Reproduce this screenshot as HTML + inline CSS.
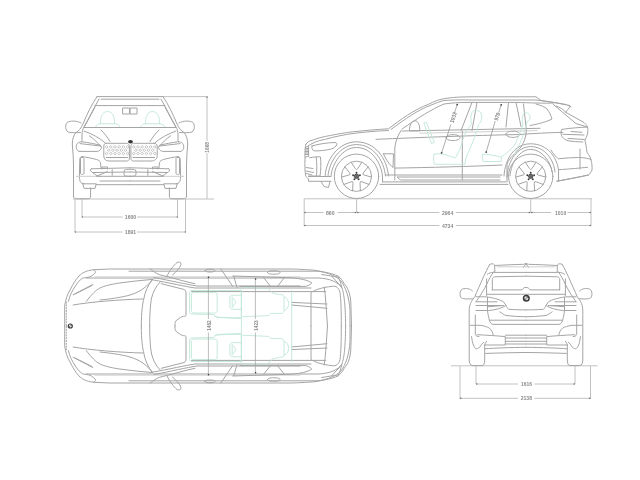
<!DOCTYPE html>
<html><head><meta charset="utf-8">
<style>
html,body{margin:0;padding:0;background:#fff;width:640px;height:480px;overflow:hidden}
svg{display:block;will-change:transform}
.l{fill:none;stroke:#a4a4a4;stroke-width:1;stroke-linecap:round;stroke-linejoin:round}
.g{fill:none;stroke:#bfe6d6;stroke-width:.9}
.d{fill:none;stroke:#c2c2c2;stroke-width:1}
.t{font-family:"Liberation Sans",sans-serif;font-size:5.7px;font-weight:bold;fill:#8a8a8a}
</style></head><body>
<svg width="640" height="480" viewBox="0 0 640 480">
<!-- FRONT VIEW dims -->
<g class="d">
<path d="M73 199H214"/>
<path d="M163 96.6H208M207 96.6V141M207 153V199"/>
<path d="M82 199V217H122.5M137 217H177.5V199"/>
<path d="M75 199V232H122.5M137 232H185.5V199"/>
</g>
<g fill="#777"><circle cx="82.3" cy="217" r=".7"/><circle cx="177.3" cy="217" r=".7"/><circle cx="75.3" cy="232" r=".7"/><circle cx="185.3" cy="232" r=".7"/><circle cx="207" cy="97.3" r=".7"/></g>
<text class="t" x="124.8" y="219.3" textLength="11.4" lengthAdjust="spacingAndGlyphs">1600</text>
<text class="t" x="124.8" y="234.3" textLength="11.4" lengthAdjust="spacingAndGlyphs">1891</text>
<text class="t" transform="translate(208.6 152.8) rotate(-90)" textLength="10.9" lengthAdjust="spacingAndGlyphs">1668</text>
<!-- FRONT VIEW car -->
<g class="l">
<!-- roof & pillars -->
<path d="M97 96.6H163M101 99.2H159"/>
<path d="M97 96.6C92 104 87 114 83 124C81 128 79 131 76 132.5C73.5 135 72.3 140 72.3 144C72.5 148 73 152 73.2 156L73.5 166V196"/>
<path d="M163 96.6C168 104 173 114 177 124C179 128 181 131 184 132.5C186.5 135 187.7 140 187.7 144C187.5 148 187 152 186.8 156L186.5 166V196"/>
<path d="M99 99C94 108 89 118 84.5 126C82.5 129 82 132 82 135V140.5M161 99C166 108 171 118 175.5 126C177.5 129 178 132 178 135V140.5"/>
<path d="M95 105.6H165"/>
<path d="M95 107C91 114 88 121 84 127.5H176C172 121 169 114 165 107"/>
<!-- mirrors -->
<path d="M81 123C77 120.5 70 120.5 67 122.5C65 125 65.2 130 68 132C71 133 77 132.8 80.5 132.5"/>
<path d="M179 123C183 120.5 190 120.5 193 122.5C195 125 194.8 130 192 132C189 133 183 132.8 179.5 132.5"/>
<!-- rearview mirror -->
<path d="M123 108H129.5V114H123ZM130.5 108H137V114H130.5Z"/>
<!-- hood creases -->
<path d="M101 130C105 134 108 138 110 141.5M159 130C155 134 152 138 150 141.5"/>
<path d="M89.4 135.8C94 139 98 143 100.4 146M170.6 135.8C166 139 162 143 159.6 146M84 131C92 134 100 138 105 142.8M176 131C168 134 160 138 155 142.8"/>
<!-- headlights -->
<path d="M81.6 141.7C88 142.5 95 144 100.4 145.2C101.5 146 101.5 148 101.2 148.5C100 150.5 98.5 151.4 97.3 151.4H79C77.5 151 76.2 149 76.2 146.8C76.5 144 77.5 142 81.6 141.7Z"/>
<path d="M80 143.6L100.4 146"/>
<path d="M178.4 141.7C172 142.5 165 144 159.6 145.2C158.5 146 158.5 148 158.8 148.5C160 150.5 161.5 151.4 162.7 151.4H181C182.5 151 183.8 149 183.8 146.8C183.5 144 182.5 142 178.4 141.7Z"/>
<path d="M180 143.6L159.6 146"/>
<!-- kidneys -->
<path d="M106 143.3H126.5C128.5 143.3 129.4 145 129.4 147V158C129.4 160 128.5 161 126.5 161H109C105.5 161 103.8 159 103.8 156V146C103.8 144.5 104.5 143.3 106 143.3Z"/>
<path d="M154 143.3H133.5C131.5 143.3 130.9 145 130.9 147V158C130.9 160 131.5 161 133.5 161H151C154.5 161 157.2 159 157.2 156V146C157.2 144.5 156 143.3 154 143.3Z"/>
<path d="M106 157.5H127.5M133 157.5H154.5"/>
</g>
<g fill="none" stroke="#aeaeae" stroke-width=".7">
<path d="M105.1 146.9L106.6 145.6L108.1 146.9L106.6 148.2Z"/>
<path d="M109.3 146.9L110.8 145.6L112.3 146.9L110.8 148.2Z"/>
<path d="M113.5 146.9L115.0 145.6L116.5 146.9L115.0 148.2Z"/>
<path d="M117.7 146.9L119.2 145.6L120.7 146.9L119.2 148.2Z"/>
<path d="M121.9 146.9L123.4 145.6L124.9 146.9L123.4 148.2Z"/>
<path d="M126.1 146.9L127.6 145.6L129.1 146.9L127.6 148.2Z"/>
<path d="M107.2 150.2L108.7 148.9L110.2 150.2L108.7 151.5Z"/>
<path d="M111.4 150.2L112.9 148.9L114.4 150.2L112.9 151.5Z"/>
<path d="M115.6 150.2L117.1 148.9L118.6 150.2L117.1 151.5Z"/>
<path d="M119.8 150.2L121.3 148.9L122.8 150.2L121.3 151.5Z"/>
<path d="M124.0 150.2L125.5 148.9L127.0 150.2L125.5 151.5Z"/>
<path d="M105.1 153.5L106.6 152.2L108.1 153.5L106.6 154.8Z"/>
<path d="M109.3 153.5L110.8 152.2L112.3 153.5L110.8 154.8Z"/>
<path d="M113.5 153.5L115.0 152.2L116.5 153.5L115.0 154.8Z"/>
<path d="M117.7 153.5L119.2 152.2L120.7 153.5L119.2 154.8Z"/>
<path d="M121.9 153.5L123.4 152.2L124.9 153.5L123.4 154.8Z"/>
<path d="M126.1 153.5L127.6 152.2L129.1 153.5L127.6 154.8Z"/>
<path d="M132.3 146.9L133.8 145.6L135.3 146.9L133.8 148.2Z"/>
<path d="M136.5 146.9L138.0 145.6L139.5 146.9L138.0 148.2Z"/>
<path d="M140.7 146.9L142.2 145.6L143.7 146.9L142.2 148.2Z"/>
<path d="M144.9 146.9L146.4 145.6L147.9 146.9L146.4 148.2Z"/>
<path d="M149.1 146.9L150.6 145.6L152.1 146.9L150.6 148.2Z"/>
<path d="M153.3 146.9L154.8 145.6L156.3 146.9L154.8 148.2Z"/>
<path d="M134.4 150.2L135.9 148.9L137.4 150.2L135.9 151.5Z"/>
<path d="M138.6 150.2L140.1 148.9L141.6 150.2L140.1 151.5Z"/>
<path d="M142.8 150.2L144.3 148.9L145.8 150.2L144.3 151.5Z"/>
<path d="M147.0 150.2L148.5 148.9L150.0 150.2L148.5 151.5Z"/>
<path d="M151.2 150.2L152.7 148.9L154.2 150.2L152.7 151.5Z"/>
<path d="M132.3 153.5L133.8 152.2L135.3 153.5L133.8 154.8Z"/>
<path d="M136.5 153.5L138.0 152.2L139.5 153.5L138.0 154.8Z"/>
<path d="M140.7 153.5L142.2 152.2L143.7 153.5L142.2 154.8Z"/>
<path d="M144.9 153.5L146.4 152.2L147.9 153.5L146.4 154.8Z"/>
<path d="M149.1 153.5L150.6 152.2L152.1 153.5L150.6 154.8Z"/>
<path d="M153.3 153.5L154.8 152.2L156.3 153.5L154.8 154.8Z"/>
</g>
<g id="fbump" class="l">
<path d="M82 156.6C87 157.3 92 158.3 96.3 159.4C98.5 160 100 161 100.5 162.5L101 167.8"/>
<path d="M82 156.6C80.8 156.8 80 157.5 79.8 159L79.4 176.3C79.5 179 80 181 80.3 181.9C81 183 82.5 183.7 84 183.8"/>
<path d="M81.5 157.5H83C83.7 157.5 84 158 84 159V173C84 174 83.5 174.4 82.5 174.4H81.5C80.8 174.4 80.5 174 80.5 173V159C80.5 158 80.8 157.5 81.5 157.5Z"/>
<path d="M76.5 176.3H101" stroke="#cccccc"/>
<path d="M91.5 168.8C90.5 169 90 169.5 90.2 170C90.8 171.5 92 172 92.5 172.5C94.5 174 96.5 175.5 98 176.3H130M91.5 168.8L130 167.8M92.5 172.5L130 172M96.3 176.3L107.5 171.6"/>
<path d="M101.9 169V167H107.5V169M112.2 169.7V175.3"/>
<path d="M100 181H130M96.3 184.7H130"/>
<path d="M83.1 183.8H96.3L95 188.4H84.5Z"/>
<path d="M73.5 187.5V196C73.5 198 75 198.8 77 198.8H88C90 198.8 90.6 198 90.6 196V188"/>
<path d="M130 169.3C127 169.3 125.5 169.5 124.5 170C123.8 171.5 123.8 174 124.5 175.5C125.5 176 127 176.3 130 176.3"/>
</g>
<use href="#fbump" transform="matrix(-1 0 0 1 260 0)"/>
<g class="g">
<path d="M100.5 124C100 118 102 111.5 107.5 111.5C113 111.5 115 118 114.5 124M95.5 127C96.5 125 98 123.8 100.5 123.8H114.5C117 123.8 119.5 125 120 127"/>
<path d="M145.5 124C145 118 147 111.5 152.5 111.5C158 111.5 160 118 159.5 124M140.5 127C141.5 125 143 123.8 145.5 123.8H159.5C162 123.8 164.5 125 165 127"/>
</g>
<ellipse cx="130.5" cy="141.8" rx="2.4" ry="1.7" fill="#333"/>
<!-- SIDE VIEW dims -->
<g class="d">
<path d="M303.8 198.8H592"/>
<path d="M304.2 198.8V226M591 198.8V226"/>
<path d="M304.2 212.5H323.5M337.5 212.5H439.4M455.9 212.5H551M567.5 212.5H591M356.6 198.5V212.5M530.7 198.5V212.5"/>
<path d="M304.2 225.5H439.4M455.9 225.5H591"/>
</g>
<g fill="#6a6a6a"><circle cx="305" cy="212.5" r=".75"/><circle cx="355.3" cy="212.5" r=".75"/><circle cx="357.9" cy="212.5" r=".75"/><circle cx="529.4" cy="212.5" r=".75"/><circle cx="532" cy="212.5" r=".75"/><circle cx="590.2" cy="212.5" r=".75"/><circle cx="305" cy="225.5" r=".75"/><circle cx="590.2" cy="225.5" r=".75"/></g>
<text class="t" x="326" y="215" textLength="8.6" lengthAdjust="spacingAndGlyphs">860</text>
<text class="t" x="441.9" y="215" textLength="11.4" lengthAdjust="spacingAndGlyphs">2964</text>
<text class="t" x="555" y="215" textLength="11.2" lengthAdjust="spacingAndGlyphs">1010</text>
<text class="t" x="441.9" y="228" textLength="11.4" lengthAdjust="spacingAndGlyphs">4734</text>
<!-- SIDE VIEW car -->
<g class="l">
<!-- silhouette top -->
<path d="M305.7 144.6C307 142 310 140.5 313.2 140C318 138 324 136.5 330.4 135.5C340 133.5 350 132 356 131.5C365 130.5 376 129.5 388.5 128.8C400 120 415 109 428.5 104.3C434 101.5 438 100 441 99.3C450 97.5 456 97 470 96.8H536L541 100.5C552 102 562 104 569.8 105.5L571 107"/>
<path d="M307.5 146.3C312 143 318 140.5 324.6 139.5C335 136.5 345 134.5 355.5 133.2C365 132 376 131 388.5 130.5"/>
<path d="M391 129.5C405 119 418 110 430 105.5C436 103 440 101.5 444 100.5C455 99.8 465 99.8 470 100H536C548 101.5 558 103 566 104.5"/>
<path d="M402 129C418 118 432 109 444 104C452 102.8 460 102.5 466 102.4H516C530 102.8 545 103.5 553.5 103"/>
<!-- A pillar inner & window -->
<path d="M402 131L540 128.3"/>
<path d="M420 133.2L537 130.6" stroke="#cfcfcf"/>
<!-- mirror -->
<path d="M409.5 130.5C409 125 412 120.8 415 120.8C418 120.8 420 125 419.8 130.5Z"/>
<!-- B pillar -->
<path d="M472 102.4L461 130.5M477 102.4L472 130.5"/>
<!-- C pillar -->
<path d="M508.5 102.4L506 127M516 102.4L521 126.5"/>
<!-- quarter window -->
<path d="M536 104C541 105.5 545 107 547 109C549.5 112 551 116 552 119C547 121.5 541 123.5 530 125.5"/>
<!-- rear glass / tailgate -->
<path d="M553 104.2L576 123.6L587.4 127"/>
<path d="M565.6 112.2L584 122.5C585.5 124 587 125.5 587.4 126.5C588 128 588 131 587.5 134L586.3 137.4C585.5 139 585 140 585 140.8C585.5 143 586.5 147 587 152.5C589 155 590.5 157 591 160C592 163 592.2 167 592 170C591 172 590 174 588.5 175L557 181.3"/>
<path d="M567.9 105.3L570.2 106.5C569 108.5 567 110.5 565.6 112.2M556 106C560 107.5 563 109 565.6 112.2"/>

<!-- taillight -->
<path d="M562 129.4C570 128 580 127.5 587.4 127M562 129.4C561 130.5 561 131.5 561 132.8C561 136 563 139 568 140.8C573 141.5 578 142 582.8 142"/>
<path d="M563 134.3L584 135M571 131.5L582 132.3M568 138.5L584.5 139.5"/>
<!-- body crease -->
<path d="M376 139.3C420 137.5 470 135.5 520 134.5C540 133 555 132.5 563 132.4"/>
<!-- door handles -->
<path d="M506 134C506 132 510 131.2 513 131.2C517 131.2 519.8 132.5 519.8 134.2C519.8 136 517 137.4 513 137.4C509 137.4 506 136 506 134Z"/>
<path d="M446 137.5C446 135.5 450 134.6 453 134.6C457 134.6 460 136 460 137.6C460 139.2 457 140.6 453 140.6C449 140.6 446 139.3 446 137.5Z"/>
<!-- headlight -->
<path d="M312 146C318 144 328 142.6 335 142.5C337 142.5 337.5 144.5 336 146C334 148 332 149 330.4 149.2C325 150.5 319 151 314.3 150.9C312 150 311.5 148 312 146Z"/>
<!-- front face -->
<path d="M305.7 144.6C305 148 304.8 152 305 159C304.8 165 304.8 170 305.5 175C306 177 307 178 308.5 178.8L308.5 181.3H331"/>
<path d="M305.5 147L308.6 146.5V156.5L305.3 157M305.4 148.5H308.6M305.3 150H308.6M305.3 151.5H308.6M305.3 153H308.6M305.3 154.5H308.6"/>
<path d="M309.7 157.8C313 157 318 156.5 320.5 157C321 163 321 170 320 176H308.5"/>
<path d="M316.2 157.2C317 163 317 170 316.5 175.5"/>
<path d="M306 167.5L313 168.5M306 171L313.5 172.5M306.5 173.5L312 175"/>
<path d="M308.5 176.5H331M321 181.3L324 186.5L328.5 187.5L330 181.3"/>
<!-- front arch -->
<path d="M325.2 175.5C326 160 338 142 356.5 141.8C375 142 387 158 388.5 176"/>
<path d="M328 176C329 162 340 144.6 356.5 144.6C373 144.6 384 160 385.5 176"/>
<path d="M331 176C332 164 342 147.5 356.5 147.5C371 147.5 381 162 382.5 176"/>
<!-- side vent -->
<path d="M383.5 153.8H393.5L393 167.5C390 165 386 160 383.5 153.8Z"/>
<!-- door edges -->
<path d="M401 130.5C398 135 395.5 141 394.8 148V180"/>
<path d="M462.3 131V180M523.5 104L526 127C527 133 525 141 521 147C516 153 509 158 507 164V177"/>
<!-- sills -->
<path d="M394.8 168.1C430 167.5 470 166.5 502 165"/>
<path d="M385.6 175H502M397.5 177C398.5 179 399.5 180 402 180H500M397.5 177H500" />
<path d="M382.5 181.9H506M380 184.4H508"/>
<path d="M382.5 176V181.9M507 176V181.9"/>
<!-- rear arch -->
<path d="M504 176C505 158 515 143.8 530.7 143.8C548 143.8 557 158 558.5 170V181"/>
<path d="M507 176C508 160 518 146.6 530.7 146.6C545 146.6 554 160 555 172"/>
<path d="M510 176C511 162 520 149.4 530.7 149.4C542 149.4 551 162 552 172"/>
<!-- rear bumper upper -->
<path d="M551 150C553 154 556 157 558.5 158.8C565 158 572 157.5 578.5 157.5C584 157.5 588 158.5 591 159.4"/>
<path d="M558.6 169.7C570 169 580 168 587.5 167.3M580 149V169"/>
<path d="M557 181C570 179 580 177 588.5 175"/>
</g>
<g class="l">
<circle cx="356.5" cy="176.3" r="22.2"/>
<circle cx="356.5" cy="176.3" r="15.1"/>
<path d="M351.1 162.2L355.3 168.6Q356.5 170.7 357.7 168.6L361.9 162.2M368.2 166.8L363.4 172.8Q361.8 174.6 364.2 175.1L371.6 177.1M369.2 184.5L362.0 181.8Q359.8 180.8 360.0 183.2L360.4 190.9M352.6 190.9L353.0 183.2Q353.2 180.8 351.0 181.8L343.8 184.5M341.4 177.1L348.8 175.1Q351.2 174.6 349.6 172.8L344.8 166.8"/>
<circle cx="530.7" cy="176.3" r="22.2"/>
<circle cx="530.7" cy="176.3" r="15.1"/>
<path d="M525.3 162.2L529.5 168.6Q530.7 170.7 531.9 168.6L536.1 162.2M542.4 166.8L537.6 172.8Q536.0 174.6 538.4 175.1L545.8 177.1M543.4 184.5L536.2 181.8Q534.0 180.8 534.2 183.2L534.6 190.9M526.8 190.9L527.2 183.2Q527.4 180.8 525.2 181.8L518.0 184.5M515.6 177.1L523.0 175.1Q525.4 174.6 523.8 172.8L519.0 166.8"/>
</g>
<circle cx="356.5" cy="176.3" r="2.2" fill="#6a6a6a" stroke="#444" stroke-width=".8"/><circle cx="356.5" cy="172.7" r=".95" fill="#3a3a3a"/><circle cx="359.9" cy="175.2" r=".95" fill="#3a3a3a"/><circle cx="358.6" cy="179.2" r=".95" fill="#3a3a3a"/><circle cx="354.4" cy="179.2" r=".95" fill="#3a3a3a"/><circle cx="353.1" cy="175.2" r=".95" fill="#3a3a3a"/>
<circle cx="530.7" cy="176.3" r="2.2" fill="#6a6a6a" stroke="#444" stroke-width=".8"/><circle cx="530.7" cy="172.7" r=".95" fill="#3a3a3a"/><circle cx="534.1" cy="175.2" r=".95" fill="#3a3a3a"/><circle cx="532.8" cy="179.2" r=".95" fill="#3a3a3a"/><circle cx="528.6" cy="179.2" r=".95" fill="#3a3a3a"/><circle cx="527.3" cy="175.2" r=".95" fill="#3a3a3a"/>
<!-- green seats side -->
<g class="g">
<path d="M423.8 123L431.5 143.5L434.4 142.5L426.5 122.4Z"/>
<path d="M433.8 154.3C437 153.5 441 153.6 445 154.5C450 156 453 157.5 455.5 157.8C458 154 460 149 461.5 145C463 138 466 130 471.5 124C470.5 120 470.5 114 472.5 111.5C475 109.5 479 110 481 113C482.5 117 482 121.5 478.5 124.5C477 132 473 142 468 153C466 157 465 161 465 164.3H434.5C433.5 161 433.5 157 433.8 154.3Z"/>
<path d="M482.5 154C488 154.5 495 155.5 501.3 157V161.5H483C482.5 159 482.3 156 482.5 154Z"/>
<path d="M501.3 157C506 154 510 150 514 146C517 141 520 133 523 125C522 120 522 115 524 113C526.5 112 529.5 113.5 530 116C530.5 119 529 121 527 122C525 130 522 140 518.8 145.3C517 149 515.5 152 515 154"/>
</g>
<!-- dim lines inside side view -->
<g fill="none" stroke="#8c8c8c" stroke-width=".7">
<path d="M457.3 104.3L454.3 113.5M450.8 124.5L441.6 153"/>
<path d="M501.3 104.6L498.6 112.8M495.2 121L486.2 152.2"/>
</g>
<g fill="#444"><circle cx="457.2" cy="104.6" r=".9"/><circle cx="441.6" cy="152.8" r=".9"/><circle cx="501.2" cy="104.8" r=".9"/><circle cx="486.2" cy="152.1" r=".9"/></g>
<text class="t" transform="translate(453.5 123.3) rotate(-72)" textLength="11" lengthAdjust="spacingAndGlyphs">1033</text>
<text class="t" transform="translate(497.7 121.1) rotate(-72)" textLength="8.2" lengthAdjust="spacingAndGlyphs">978</text>

<!-- TOP VIEW -->
<g id="tophalf" class="l">
<path d="M64.7 326V306C65.5 300 67 295 70 290C73 284 76 279 79 276C82 273 86 270.5 94 269.7L109.7 269H290C300 269.2 310 269.8 315 270.3C322 271.5 328 272.8 331.7 273.7C334 274.5 336.5 275.3 338.3 276.2C341 278.5 343 281 344.2 283.7C346 286 347.5 288 348.3 290.3C349.8 294 350.5 298 350.8 302L351.5 326"/>
<path d="M129 271.2H318C328 272.5 336 276 341 281C346 288 349 297 350 310V326"/>
<path d="M86.3 278H318C330 278.5 338 282 342 288C344 294 345.5 305 345.6 326"/>
<path d="M95 276.8H300" stroke="#d4d4d4"/>
<path d="M93.8 270C95.5 270.5 96 272 95 273C93 275.5 90 277 88 277.3C85 277.8 83 278 82.5 278.2C80 280 78 282 76 285C72 291 69.5 296 68.4 301.4"/>
<path d="M92.8 284.5L73.1 294.8M92 285.5L75 294"/>
<path d="M86.3 301.4C92 294 96 290 99.4 288.3C104 286 110 284.5 118.8 283.1C130 281.5 142 280.3 152.5 279.4"/>
<path d="M73.1 305C90 302 120 299.5 143 299"/>
<path d="M100 300C115 298.5 125 296.5 130 295C140 292 147 287 152.5 279.4"/>
<path d="M66.3 302V326" stroke-dasharray="1.2 1.6"/>
<path d="M152 279.7C170 283 185 286.5 195 288H311M154 277.5C172 281 187 284.5 197 286H300M150 268.75C154 272 158 275 163.6 275.7C175 278.5 186 282 195 283.7"/>
<path d="M191.5 291.6H325.8"/>
<path d="M152.5 279.4C148 285 145 292 144 298C142.5 304 141.3 312 141.3 326"/>
<path d="M160 282.2C156 286 153 292 151.6 298C150.2 305 149.7 315 149.7 326"/>
<path d="M161.3 283.7L184.2 289.5C185.5 290 186 291.5 186 293V315.5C185 316.5 184 316.3 183.7 316.3C181 317 179 318 178.7 318.8C176 320 175 322 175 323.7V326"/>
<path d="M167 276C170 270 174 265 177 262.5C179 261.5 181.5 262 181 264.5C180 268 176 272 172.5 275"/>
<path d="M220.8 269L232.8 286.4M233.8 276.3L237 287.5M263.7 277.8L270.6 286.4M284.3 277.8L277.5 286.4"/>
<path d="M267.5 272.5C267.5 271.2 270 270.8 273.8 270.8C277.5 270.8 280 271.2 280 272.5C280 273.8 277.5 274.2 273.8 274.2C270 274.2 267.5 273.8 267.5 272.5Z"/>
<path d="M205 270.6C205 269.6 207.5 269.2 210 269.2C212.5 269.2 215 269.6 215 270.6C215 271.6 212.5 272 210 272C207.5 272 205 271.6 205 270.6Z"/>
<path d="M232.8 276L291 277.8C300 278.5 308 280 311.8 283C310 285 307 286.4 305 286.4H239.7"/>
<path d="M311 326V292.5C315 290 321 287.5 332.5 286.3C336 285.5 339 288 340 292.5C341 300 341.3 310 341.3 326"/>
<path d="M324.2 287C325 292 325.4 297 325.8 302L327.5 326"/>
<path d="M321.7 274.5C328 275.5 334 276.5 338.3 277C340 280 341 284 341.7 287M331.7 276.2L341.7 287"/>
<path d="M291.5 302.4L327 304M291.5 305L327 308.3"/>
</g>
<g id="tophalfg" class="g">
<path d="M189.6 312V292.5C189.6 291.2 190.5 290.5 192 290.5H241.4M189.6 312C189.6 313.5 190.5 314 192 314L213 314.5C215 315 216 317 217.5 317.7H241.4"/>
<path d="M194 292.4H214.7C216.2 292.4 217.2 293.4 217.2 295V310.5C217.2 312 216.2 313 214.7 313H194C192.4 313 191.4 312 191.4 310.5V295C191.4 293.4 192.4 292.4 194 292.4Z"/>
<path d="M241.1 295.2H232.5C230.8 295.2 229.9 296.2 229.9 298V306.5C229.9 308.3 230.8 309.3 232.5 309.3H241.1M232.2 296.5V308M233 298L236 302.2L233 306.5"/>
<path d="M241.4 290V326M291.7 290V326"/>
<path d="M241.4 315.6V291C241.5 289 242.5 287.7 244 287.7L266.6 288.3C269 288.8 270.5 290.5 272 292.7C275 294 279 294.5 281.9 294.8C283.5 295 284 296 284 297V310.2C284 312 283 313 281.9 313.4H271C270 314 269.5 315 268.8 315.6L243.6 316.7C242 316.5 241.4 316 241.4 315.6Z"/>
<path d="M284 297C287 297.5 288.5 300 288.5 303.5C288.5 307 287 310 284 310.2"/>
<path d="M214.4 316.6C222 317.5 232 318.2 240.7 318.5"/>
</g>
<use href="#tophalf" transform="matrix(1 0 0 -1 0 652)"/>
<use href="#tophalfg" transform="matrix(1 0 0 -1 0 652)"/>
<circle cx="70.3" cy="326" r="2.6" fill="#3a3a3a"/><circle cx="70.3" cy="326" r="1.4" fill="#9a9a9a"/><path d="M68.9 326A1.4 1.4 0 0 1 70.3 324.6V326ZM71.7 326A1.4 1.4 0 0 1 70.3 327.4V326Z" fill="#eee"/>
<g fill="none" stroke="#a0a0a0" stroke-width=".7">
<path d="M208.4 277V319M208.4 332.5V375"/>
<path d="M255.4 278.8V319M255.4 332.5V373"/>
</g>
<circle cx="208.5" cy="277.2" r=".8" fill="#333"/><circle cx="208.5" cy="374.8" r=".8" fill="#333"/>
<circle cx="255.6" cy="279" r=".8" fill="#333"/><circle cx="255.6" cy="372.8" r=".8" fill="#333"/>
<text class="t" transform="translate(210.6 330.8) rotate(-90)" textLength="10.4" lengthAdjust="spacingAndGlyphs">1462</text>
<text class="t" transform="translate(257.6 330.8) rotate(-90)" textLength="10.4" lengthAdjust="spacingAndGlyphs">1423</text>
<!-- REAR VIEW -->
<g class="d">
<path d="M451 365.8H597.5"/>
<path d="M460 366V399M476 366V384M575 366V384M590.5 366V399"/>
<path d="M476 384H518M534.4 384H575"/>
<path d="M460 398.3H518M534.4 398.3H590.5"/>
</g>
<g fill="#6a6a6a"><circle cx="476.8" cy="384" r=".75"/><circle cx="574.2" cy="384" r=".75"/><circle cx="460.8" cy="398.3" r=".75"/><circle cx="589.7" cy="398.3" r=".75"/></g>
<text class="t" x="521.1" y="386" textLength="10.9" lengthAdjust="spacingAndGlyphs">1616</text>
<text class="t" x="520.7" y="400.4" textLength="11.3" lengthAdjust="spacingAndGlyphs">2138</text>
<g id="rearhalf" class="l">
<path d="M489.8 264.5C490.5 263.5 493.5 263.3 494.7 265L494.8 271.7"/>
<path d="M494.7 265.5C505 265 515 264.5 523.5 264.3L526 263.6M523.5 267.4L526 263.6"/>
<path d="M497 266.8H526" stroke="#d0d0d0"/>
<path d="M487.3 274.3C489 273 491 272.5 493.5 272.4H526"/>
<path d="M492.3 289.9V279.5C492.3 278 493.2 277 494.5 276.8L526 276.2M492.3 289.9H522C523 288 524.5 287.4 526 287.4"/>
<path d="M486.6 279V295.5M487 294.3H526"/>
<path d="M489.8 264.3C487 269 485.5 273 483.5 276.8C480 285 477 291 474.8 296.8C472 300 470.5 303 469.8 305.5C469 309 469.2 313 469.2 318V360C469.2 363 470 365.6 473 365.6H482C484 365.6 484.7 363 484.7 360V345"/>
<path d="M493.5 271.8C491 276 489 279 487.3 283C484 290 480 296 476 301.8"/>
<path d="M476 296.8H486C492 297.5 500 299.5 503.5 301.8L506 305.5C502 308 496 310 488.5 310.5H476M476 301.8H497M476 305.5H501M487.3 306.8L503.5 305.5"/>
<path d="M506 305.5C507 307 507.5 308.5 508.5 309.3C515 309.8 521 309.9 526 309.9M499.8 311.8C502 313 504 315 506 315.5C513 316.3 520 316.7 526 316.8"/>
<path d="M472.5 298.8C468 299 462 299.5 460.5 297C459.5 294 460 290 462.5 289C466 288 470 288.5 472.5 291"/>
<path d="M487.5 297.5V310C487.8 315 489 318 489.4 320.6C490 322.5 491.5 324.4 493.1 324.4H526M489.4 320.2H526"/>
<path d="M475.3 315V334.7C476 336 477.5 336.6 479 336.6"/>
<path d="M470.2 325.3H480C484 325.8 487.5 327 489.4 328.1C491.5 330 492.8 332.5 493.1 334.7"/>
<path d="M471.6 336.6C472 340 472.5 343 473.4 345C474.5 347.5 475.5 348.7 476.3 348.8C478 348.5 479.5 347.5 480 346.9C481 345 482.5 343 483.8 342.2"/>
<path d="M477.2 334.7C487 335.2 497 335.8 505.3 336.6V345H484.7M486.6 341.3C485.5 342.5 485 343.8 484.7 345"/>
<path d="M505.3 335.2H526M505.3 338H526M505.3 341.3H526M505.3 344H526"/>
<path d="M484.7 348.8C495 348 510 347.5 526 347.3M485.6 353.4C500 353 512 352.6 526 352.5"/>
</g>
<use href="#rearhalf" transform="matrix(-1 0 0 1 1052 0)"/>
<circle cx="526.3" cy="298.3" r="3.5" fill="#3a3a3a"/><circle cx="526.3" cy="298.3" r="2" fill="#8a8a8a"/><path d="M524.3 298.3A2 2 0 0 1 526.3 296.3V298.3ZM528.3 298.3A2 2 0 0 1 526.3 300.3V298.3Z" fill="#e8e8e8"/>

</svg>
</body></html>
